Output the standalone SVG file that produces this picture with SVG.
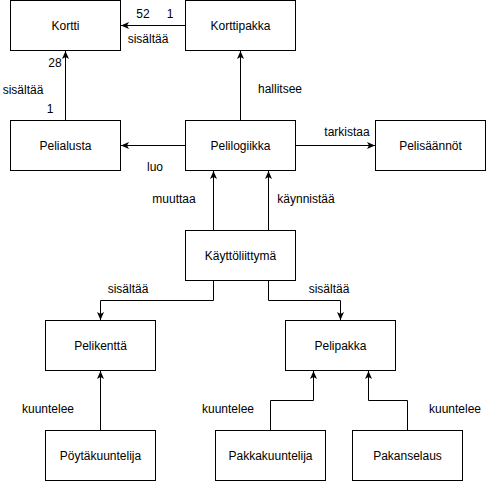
<svg xmlns="http://www.w3.org/2000/svg" width="499" height="484" viewBox="0 0 499 484">
<style>
.n rect{fill:#fff;stroke:#000;stroke-width:1}
text{font-family:"Liberation Sans",Arial,sans-serif;font-size:12px;fill:#000}
.n text{text-anchor:middle}
.c path{fill:none;stroke:#000;stroke-width:1}
.m{text-anchor:middle}
</style>
<defs>
<marker id="a" markerWidth="10" markerHeight="10" refX="8" refY="4" orient="auto" markerUnits="userSpaceOnUse">
<path d="M0,0.5 L8,4 L0,7.5 L2,4 z" fill="#000"/>
</marker>
</defs>
<rect width="499" height="484" fill="#fff"/>
<g class="c" marker-end="url(#a)">
<path d="M185.5,25.5 H121" marker-end="url(#a)"/>
<path d="M65.5,120.5 V51" marker-end="url(#a)"/>
<path d="M240.5,120.5 V51" marker-end="url(#a)"/>
<path d="M185.5,145.5 H121" marker-end="url(#a)"/>
<path d="M295.5,145.5 H375" marker-end="url(#a)"/>
<path d="M213.5,230.5 V171" marker-end="url(#a)"/>
<path d="M268.5,230.5 V171" marker-end="url(#a)"/>
<path d="M213.5,280.5 V300.5 H100.5 V320" marker-end="url(#a)"/>
<path d="M268.5,280.5 V300.5 H340.5 V320" marker-end="url(#a)"/>
<path d="M100.5,430.5 V371" marker-end="url(#a)"/>
<path d="M270.5,430.5 V400.5 H313.5 V371" marker-end="url(#a)"/>
<path d="M407.5,430.5 V400.5 H368.5 V371" marker-end="url(#a)"/>
</g>
<g id="labels">
<text x="143" y="18" class="m">52</text>
<text x="170" y="18" class="m">1</text>
<text x="148" y="43" class="m">sisältää</text>
<text x="55" y="67" class="m">28</text>
<text x="23" y="94" class="m">sisältää</text>
<text x="50" y="113" class="m">1</text>
<text x="280" y="93" class="m">hallitsee</text>
<text x="155" y="171" class="m">luo</text>
<text x="347" y="136" class="m">tarkistaa</text>
<text x="174" y="203" class="m">muuttaa</text>
<text x="306" y="203" class="m">käynnistää</text>
<text x="128" y="293" class="m">sisältää</text>
<text x="329" y="293" class="m">sisältää</text>
<text x="48" y="413" class="m">kuuntelee</text>
<text x="228" y="413" class="m">kuuntelee</text>
<text x="455" y="413" class="m">kuuntelee</text>
</g>
<g id="kortti" class="n"><rect x="10.5" y="0.5" width="110" height="50"/><text x="65.5" y="29.5">Kortti</text></g>
<g id="korttipakka" class="n"><rect x="185.5" y="0.5" width="110" height="50"/><text x="240.5" y="29.5">Korttipakka</text></g>
<g id="pelialusta" class="n"><rect x="10.5" y="120.5" width="110" height="50"/><text x="65.5" y="149.5">Pelialusta</text></g>
<g id="pelilogiikka" class="n"><rect x="185.5" y="120.5" width="110" height="50"/><text x="240.5" y="149.5">Pelilogiikka</text></g>
<g id="pelisaannot" class="n"><rect x="375.5" y="120.5" width="110" height="50"/><text x="430.5" y="149.5">Pelisäännöt</text></g>
<g id="kayttoliittyma" class="n"><rect x="185.5" y="230.5" width="110" height="50"/><text x="240.5" y="259.5">Käyttöliittymä</text></g>
<g id="pelikentta" class="n"><rect x="45.5" y="320.5" width="110" height="50"/><text x="100.5" y="349.5">Pelikenttä</text></g>
<g id="pelipakka" class="n"><rect x="285.5" y="320.5" width="110" height="50"/><text x="340.5" y="349.5">Pelipakka</text></g>
<g id="poytakuuntelija" class="n"><rect x="45.5" y="430.5" width="110" height="50"/><text x="100.5" y="459.5">Pöytäkuuntelija</text></g>
<g id="pakkakuuntelija" class="n"><rect x="215.5" y="430.5" width="110" height="50"/><text x="270.5" y="459.5">Pakkakuuntelija</text></g>
<g id="pakanselaus" class="n"><rect x="352.5" y="430.5" width="110" height="50"/><text x="407.5" y="459.5">Pakanselaus</text></g>
</svg>
